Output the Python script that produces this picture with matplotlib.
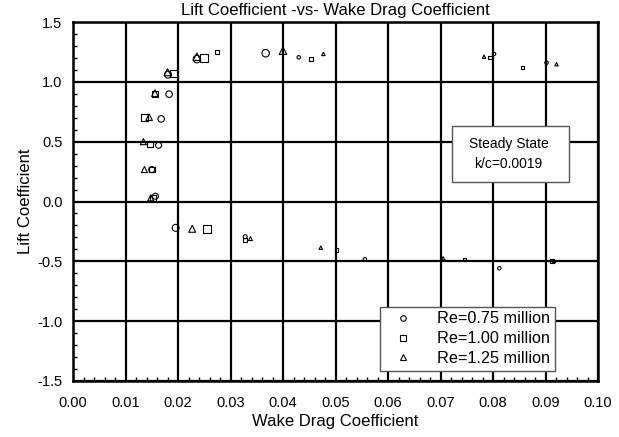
import matplotlib
matplotlib.use("Agg")
import matplotlib.pyplot as plt
from matplotlib.ticker import MultipleLocator
from matplotlib.patches import Rectangle

plt.rcParams['font.family'] = ['Liberation Sans', 'DejaVu Sans']

# Data
cd_075 = [0.0157, 0.0150, 0.0163, 0.0168, 0.0183, 0.0181, 0.0236, 0.0367, 0.0430, 0.0802, 0.0902,
          0.01955, 0.0328, 0.0556, 0.0812]
cl_075 = [0.044, 0.267, 0.470, 0.690, 0.897, 1.060, 1.190, 1.239, 1.205, 1.233, 1.160,
          -0.220, -0.294, -0.483, -0.558]

cd_100 = [0.0153, 0.0150, 0.0147, 0.0136, 0.0156, 0.0192, 0.0250, 0.0275, 0.0453, 0.0794, 0.0856,
          0.0255, 0.0328, 0.0502, 0.0746, 0.0912]
cl_100 = [0.030, 0.267, 0.480, 0.700, 0.897, 1.070, 1.200, 1.247, 1.190, 1.205, 1.120,
          -0.233, -0.320, -0.405, -0.483, -0.497]

cd_125 = [0.0148, 0.0136, 0.0134, 0.0145, 0.0156, 0.0180, 0.0236, 0.0400, 0.0477, 0.0783, 0.0921,
          0.0227, 0.0338, 0.0472, 0.0705, 0.0916]
cl_125 = [0.030, 0.267, 0.500, 0.705, 0.905, 1.080, 1.210, 1.260, 1.233, 1.210, 1.147,
          -0.228, -0.310, -0.386, -0.475, -0.497]

labels = ['Re=0.75 million', 'Re=1.00 million', 'Re=1.25 million']
x_ticks = [0.00, 0.01, 0.02, 0.03, 0.04, 0.05, 0.06, 0.07, 0.08, 0.09, 0.10]
x_ticklabels = ['0.00', '0.01', '0.02', '0.03', '0.04', '0.05', '0.06', '0.07', '0.08', '0.09', '0.10']
y_ticks = [-1.5, -1.0, -0.5, 0.0, 0.5, 1.0, 1.5]
y_ticklabels = ['-1.5', '-1.0', '-0.5', '0.0', '0.5', '1.0', '1.5']

# marker size styles (points^2), per point
sz_075 = [19, 19, 19, 22, 22, 25, 29, 29, 6, 6, 6, 25, 8, 6, 6]
sz_100 = [17, 17, 17, 22, 20, 29, 32, 8, 6, 6, 6, 32, 8, 6, 6, 6]
sz_125 = [19, 19, 19, 22, 22, 25, 29, 29, 6, 6, 6, 25, 8, 6, 6, 6]

fig = plt.figure(figsize=(6.19, 4.37), dpi=100)
W, H = 619, 437
x0, x1, ytop, ybot = 73, 598, 22, 381
ax = fig.add_axes([x0 / W, 1 - ybot / H, (x1 - x0) / W, (ybot - ytop) / H])

ax.set_xlim(0, 0.10)
ax.set_ylim(-1.5, 1.5)

ax.scatter(cd_075, cl_075, s=sz_075, marker='o', facecolors='none', edgecolors='black', linewidths=0.8, zorder=3)
ax.scatter(cd_100, cl_100, s=sz_100, marker='s', facecolors='none', edgecolors='black', linewidths=0.8, zorder=3)
ax.scatter(cd_125, cl_125, s=sz_125, marker='^', facecolors='none', edgecolors='black', linewidths=0.8, zorder=3)

ax.set_xticks(x_ticks)
ax.set_xticklabels(x_ticklabels)
ax.set_yticks(y_ticks)
ax.set_yticklabels(y_ticklabels)
ax.xaxis.set_minor_locator(MultipleLocator(0.002))
ax.yaxis.set_minor_locator(MultipleLocator(0.1))
ax.tick_params(axis='x', which='major', length=0, labelsize=10.5, pad=11)
ax.tick_params(axis='y', which='major', length=0, labelsize=10.5, pad=7.5)
ax.tick_params(which='minor', direction='in', length=3, width=1, top=False, right=False)
ax.grid(True, which='major', color='black', linewidth=1.6)
ax.set_axisbelow(True)
for sp in ax.spines.values():
    sp.set_linewidth(1.8)

def ax_frac(px, py):
    return (px - x0) / (x1 - x0), (ybot - py) / (ybot - ytop)

ax.set_xlabel('Wake Drag Coefficient', fontsize=12)
ax.set_ylabel('Lift Coefficient', fontsize=12)
ax.xaxis.set_label_coords(*ax_frac(335, 414))
ax.yaxis.set_label_coords(*ax_frac(33, 201.5))
fig.text(335 / W, 1 - 10 / H, 'Lift Coefficient -vs- Wake Drag Coefficient', ha='center', va='center', fontsize=12)

# Text box
bx0, by0 = ax_frac(452, 182)
bx1, by1 = ax_frac(569, 126)
ax.add_patch(Rectangle((bx0, by0), bx1 - bx0, by1 - by0, transform=ax.transAxes,
                       facecolor='white', edgecolor='#555555', linewidth=1.0, zorder=4))
ax.text((bx0 + bx1) / 2 - 0.004, (by0 + by1) / 2, 'Steady State\nk/c=0.0019', transform=ax.transAxes,
        ha='center', va='center', fontsize=10, linespacing=1.6, zorder=5)

# Legend
h1 = plt.Line2D([], [], marker='o', ls='none', mfc='none', mec='black', ms=4, mew=0.8)
h2 = plt.Line2D([], [], marker='s', ls='none', mfc='none', mec='black', ms=4, mew=0.8)
h3 = plt.Line2D([], [], marker='^', ls='none', mfc='none', mec='black', ms=4, mew=0.8)
lx, ly = ax_frac(380, 371)
leg = ax.legend([h1, h2, h3], labels, loc='lower left', bbox_to_anchor=(lx, ly), fontsize=11.7,
                frameon=True, fancybox=False, framealpha=1, edgecolor='#555555',
                borderaxespad=0, borderpad=0.3, labelspacing=0.3, handletextpad=1.0,
                handlelength=2.2)
leg.get_frame().set_linewidth(1.0)
leg.set_zorder(6)

fig.savefig('out.png', dpi=100)
